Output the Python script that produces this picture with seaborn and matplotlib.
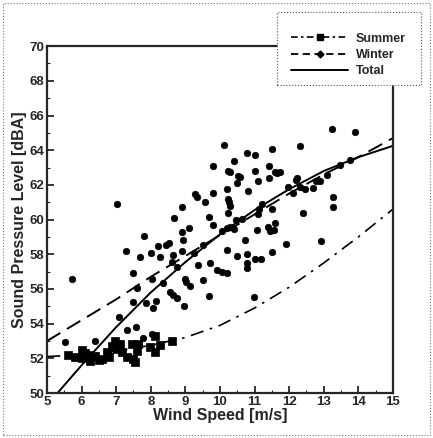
import numpy as np
import pandas as pd
import matplotlib
matplotlib.use("Agg")
import matplotlib.pyplot as plt
from matplotlib.lines import Line2D
from matplotlib.patches import Rectangle
from matplotlib.ticker import MultipleLocator
import seaborn as sns

# --- data ---
winter_x = [7.01, 10.12, 9.79, 10.41, 10.77, 11.01, 11.5, 12.31, 13.23, 13.91,
            10.23, 10.3, 10.51, 10.5, 11.0, 11.43, 11.6, 11.09, 11.41, 10.2,
            10.8, 9.29, 9.33, 9.56, 9.79, 8.89, 10.23, 10.26, 10.29, 9.69,
            8.67, 10.24, 10.45, 10.65, 11.14, 11.21, 11.49, 11.97, 12.1, 12.2,
            12.46, 12.77, 13.08, 13.27, 13.27, 13.47, 13.76, 12.41, 11.1, 10.58,
            11.65, 11.73, 12.22, 12.31, 12.7, 12.9,
            5.71, 5.52, 6.39, 7.09, 7.3, 7.57, 7.49, 7.49, 7.59, 7.28,
            7.8, 7.69, 8.0, 8.03, 7.86, 8.07, 8.15, 8.22, 8.27, 8.44,
            8.53, 8.34, 8.6, 8.65, 8.89, 8.92, 9.11, 8.89, 8.75, 9.0,
            9.02, 8.56, 8.65, 8.75, 8.97, 9.13, 9.26, 9.37, 9.52, 9.5,
            9.71, 9.81, 9.69, 9.9, 10.05, 10.2, 10.19, 10.48, 10.72, 10.77,
            10.77, 10.77, 11.0, 11.2, 11.07, 10.98, 11.5, 11.4, 11.45, 11.55,
            11.6, 11.91, 12.92, 10.29, 10.05, 10.2, 10.4, 7.78, 8.03]
winter_y = [60.89, 64.29, 63.1, 63.37, 63.85, 63.72, 64.06, 64.25, 65.2, 65.03,
            62.81, 62.75, 62.53, 62.09, 62.81, 63.08, 62.74, 62.22, 62.37, 61.76,
            61.64, 61.47, 61.3, 61.03, 61.54, 60.74, 61.2, 61.0, 60.8, 60.16,
            60.09, 60.36, 60.0, 60.05, 60.59, 60.89, 60.59, 61.89, 61.51, 62.28,
            61.76, 62.22, 62.56, 61.31, 60.7, 63.14, 63.43, 60.39, 60.3, 62.45,
            62.7, 62.75, 62.37, 61.85, 61.8, 62.2,
            56.59, 52.96, 53.02, 54.4, 53.63, 53.82, 55.26, 56.93, 56.03, 58.2,
            59.05, 57.82, 58.1, 56.55, 55.21, 54.88, 55.28, 58.47, 57.82, 58.53,
            58.66, 56.32, 57.57, 57.95, 58.2, 58.82, 59.49, 59.3, 57.28, 56.6,
            56.4, 55.8, 55.65, 55.5, 55.03, 56.18, 58.09, 57.38, 58.53, 56.51,
            57.48, 59.68, 55.59, 57.1, 57.0, 56.9, 58.24, 57.9, 58.82, 58.0,
            57.5, 57.2, 57.7, 57.7, 59.4, 55.52, 58.15, 59.6, 59.35, 59.4,
            59.8, 58.59, 58.78, 59.59, 59.35, 59.5, 59.45, 53.2, 53.4]

summer_x = [5.62, 5.81, 6.0, 6.0, 6.19, 6.25, 6.39, 6.5, 6.58, 6.73,
            6.87, 6.97, 7.01, 7.16, 7.3, 7.45, 7.49, 7.59, 7.64, 7.98,
            8.12, 8.27, 8.12, 8.6, 6.1, 6.8, 7.1, 7.55]
summer_y = [52.21, 52.05, 52.5, 52.0, 52.2, 51.85, 52.15, 51.9, 51.96, 52.34,
            52.7, 53.0, 52.53, 52.34, 52.1, 52.8, 51.96, 52.44, 52.8, 52.67,
            53.3, 52.77, 52.34, 53.0, 52.3, 52.1, 52.8, 51.8]

fit_x = [5, 6, 7, 8, 9, 10, 11, 12, 13, 14, 15]
summer_fit = [52.1, 52.2, 52.4, 52.75, 53.2, 53.9, 54.9, 56.1, 57.5, 59.0, 60.6]
winter_fit = [53.0, 54.2, 55.4, 56.7, 57.9, 59.1, 60.3, 61.5, 62.6, 63.6, 64.7]
total_fit = [49.3, 51.6, 53.8, 55.8, 57.55, 59.15, 60.55, 61.75, 62.8, 63.6, 64.25]

sns.set_style("ticks")
plt.rcParams['font.family'] = ['Liberation Sans', 'DejaVu Sans']
plt.rcParams['font.weight'] = 'bold'

fig = plt.figure(figsize=(4.33, 4.38), dpi=100)
ax = fig.add_axes([0.1085, 0.1027, 0.799, 0.792])

fits = pd.DataFrame({'x': fit_x, 'summer': summer_fit,
                     'winter': winter_fit, 'total': total_fit})
sns.lineplot(data=fits, x='x', y='summer', ax=ax, color='black', lw=1.2,
             linestyle=(0, (8, 4, 1.5, 4)))
sns.lineplot(data=fits, x='x', y='winter', ax=ax, color='black', lw=1.4,
             linestyle=(0, (8, 4)))
sns.lineplot(data=fits, x='x', y='total', ax=ax, color='black', lw=1.4)

sns.scatterplot(x=winter_x, y=winter_y, ax=ax, color='black', marker='o',
                s=22, edgecolor='black', linewidth=0.5, zorder=3)
sns.scatterplot(x=summer_x, y=summer_y, ax=ax, color='black', marker='s',
                s=34, edgecolor='black', linewidth=0.5, zorder=3)

ax.set_xlim(5, 15)
ax.set_ylim(50, 70)
ax.xaxis.set_major_locator(MultipleLocator(1))
ax.yaxis.set_major_locator(MultipleLocator(2))
ax.xaxis.set_minor_locator(MultipleLocator(0.5))
ax.yaxis.set_minor_locator(MultipleLocator(1))
ax.tick_params(which='major', direction='in', length=5, width=1.3,
               labelsize=9.5, pad=2)
ax.tick_params(which='minor', direction='in', length=2.5, width=0.8)
for s in ax.spines.values():
    s.set_linewidth(1.6)
for lab in ax.get_xticklabels() + ax.get_yticklabels():
    lab.set_fontweight('bold')

ax.set_xlabel('Wind Speed [m/s]', fontsize=11.5, fontweight='bold', labelpad=0)
ax.set_ylabel('Sound Pressure Level [dBA]', fontsize=11.5, fontweight='bold',
              labelpad=2)

# legend box with dotted border, sitting over the top-right corner
fig.patches.append(Rectangle((277 / 433, 1 - 85 / 438), 144 / 433, 73 / 438,
                             transform=fig.transFigure, facecolor='white',
                             edgecolor='#555555', lw=0.8, linestyle=':',
                             zorder=1))
handles = [
    Line2D([], [], color='black', lw=1.2, linestyle=(0, (4, 2, 1.5, 2)),
           marker='s', markersize=5),
    Line2D([], [], color='black', lw=1.3, linestyle=(0, (4, 2.5)),
           marker='D', markersize=3.5),
    Line2D([], [], color='black', lw=1.4),
]
leg = fig.legend(handles, ['Summer', 'Winter', 'Total'], loc='upper left',
                 bbox_to_anchor=(282 / 433, 1 - 24 / 438), frameon=False,
                 fontsize=9, handlelength=4.6, handletextpad=0.6,
                 labelspacing=0.35, borderpad=0.2, numpoints=1)
for t in leg.get_texts():
    t.set_fontweight('bold')

# dotted outer border of the picture
fig.patches.append(Rectangle((3 / 433, 3 / 438), 427 / 433, 432 / 438,
                             transform=fig.transFigure, fill=False,
                             edgecolor='#777777', lw=0.8, linestyle=':',
                             zorder=0))

fig.savefig('out.png', dpi=100)
